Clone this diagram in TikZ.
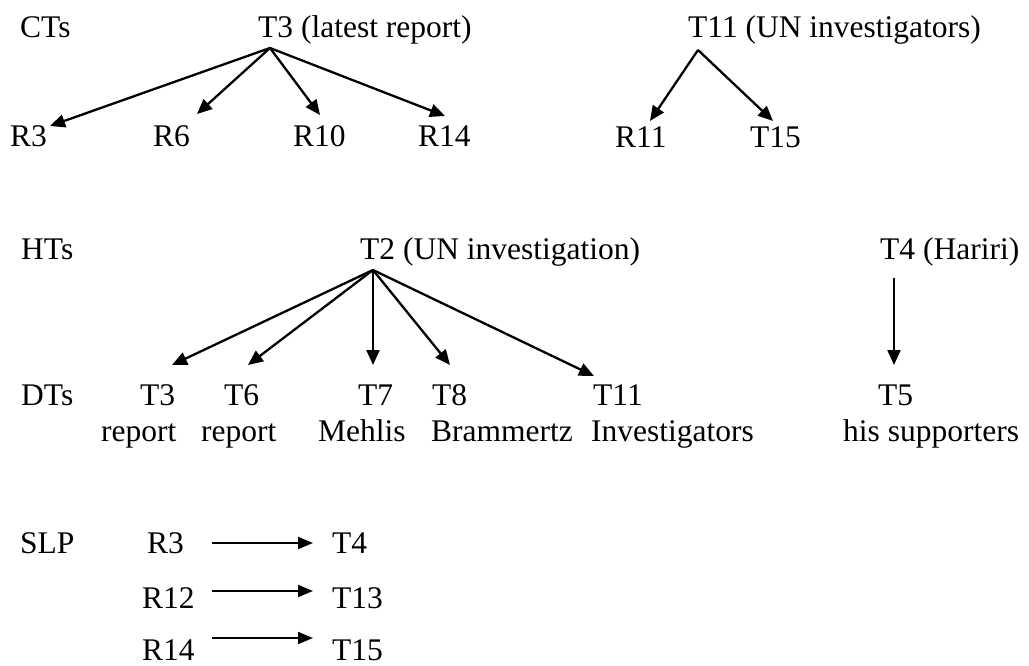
\documentclass[tikz,border=0pt]{standalone}
\usepackage{fontspec}
\setmainfont{Liberation Serif}
\usetikzlibrary{arrows.meta}
\begin{document}
\begin{tikzpicture}[x=1pt,y=-1pt,
  lbl/.style={anchor=base west,inner sep=0pt,font=\fontsize{31.5}{38}\selectfont},
  link/.style={line width=2.3pt,-{Triangle[length=15pt,width=13pt]}},
  slink/.style={line width=1.8pt,-{Triangle[length=15pt,width=12pt]}}]
\useasboundingbox (0,0) rectangle (1029,666);

% row labels
\node[lbl] (cts) at (20,38) {CTs};
\node[lbl] (hts) at (21,259) {HTs};
\node[lbl] (dts) at (21,405) {DTs};
\node[lbl] (slp) at (20,553) {SLP};

% CTs: T3 tree
\node[lbl] (ct3) at (258,38) {T3 (latest report)};
\node[lbl] (cr3) at (10,147) {R3};
\node[lbl] (cr6) at (153,147) {R6};
\node[lbl] (cr10) at (293,147) {R10};
\node[lbl] (cr14) at (418,147) {R14};
\coordinate (ct3o) at (270,48);
\coordinate (cr3t) at (50,126);
\coordinate (cr6t) at (197,114);
\coordinate (cr10t) at (320,115);
\coordinate (cr14t) at (445,116);
\draw[link] (ct3o) -- (cr3t);
\draw[link] (ct3o) -- (cr6t);
\draw[link] (ct3o) -- (cr10t);
\draw[link] (ct3o) -- (cr14t);

% CTs: T11 tree
\node[lbl] (ct11) at (688,38) {T11 (UN investigators)};
\node[lbl] (cr11) at (615,148) {R11};
\node[lbl] (ct15) at (750,148) {T15};
\coordinate (ct11o) at (698,50);
\coordinate (cr11t) at (650,121);
\coordinate (ct15t) at (773,121);
\draw[link] (ct11o) -- (cr11t);
\draw[link] (ct11o) -- (ct15t);

% HTs: T2 tree
\node[lbl] (ht2) at (360,259) {T2 (UN investigation)};
\node[lbl] (dt3) at (140,405) {T3};
\node[lbl] (dt3b) at (101,441) {report};
\node[lbl] (dt6) at (224,405) {T6};
\node[lbl] (dt6b) at (201,441) {report};
\node[lbl] (dt7) at (358,405) {T7};
\node[lbl] (dt7b) at (318,441) {Mehlis};
\node[lbl] (dt8) at (432,405) {T8};
\node[lbl] (dt8b) at (431,441) {Brammertz};
\node[lbl] (dt11) at (593,405) {T11};
\node[lbl] (dt11b) at (591,441) {Investigators};
\coordinate (ht2o) at (373,270);
\coordinate (dt3t) at (172,365);
\coordinate (dt6t) at (248,365);
\coordinate (dt7t) at (373,365);
\coordinate (dt8t) at (450,365);
\coordinate (dt11t) at (594,376);
\draw[link] (ht2o) -- (dt3t);
\draw[link] (ht2o) -- (dt6t);
\draw[link] (ht2o) -- (dt7t);
\draw[link] (ht2o) -- (dt8t);
\draw[link] (ht2o) -- (dt11t);

% HTs: T4 tree
\node[lbl] (ht4) at (880,259) {T4 (Hariri)};
\node[lbl] (dt5) at (878,405) {T5};
\node[lbl] (dt5b) at (843,441) {his supporters};
\coordinate (ht4o) at (894,278);
\coordinate (dt5t) at (894,365);
\draw[link] (ht4o) -- (dt5t);

% SLP pairs
\node[lbl] (sr3) at (147,553) {R3};
\node[lbl] (st4) at (332,553) {T4};
\node[lbl] (sr12) at (142,608) {R12};
\node[lbl] (st13) at (332,608) {T13};
\node[lbl] (sr14) at (142,660) {R14};
\node[lbl] (st15) at (332,660) {T15};
\coordinate (sr3o) at (212,543);
\coordinate (st4t) at (313,543);
\coordinate (sr12o) at (212,591);
\coordinate (st13t) at (313,591);
\coordinate (sr14o) at (212,638);
\coordinate (st15t) at (313,638);
\draw[slink] (sr3o) -- (st4t);
\draw[slink] (sr12o) -- (st13t);
\draw[slink] (sr14o) -- (st15t);
\end{tikzpicture}
\end{document}
